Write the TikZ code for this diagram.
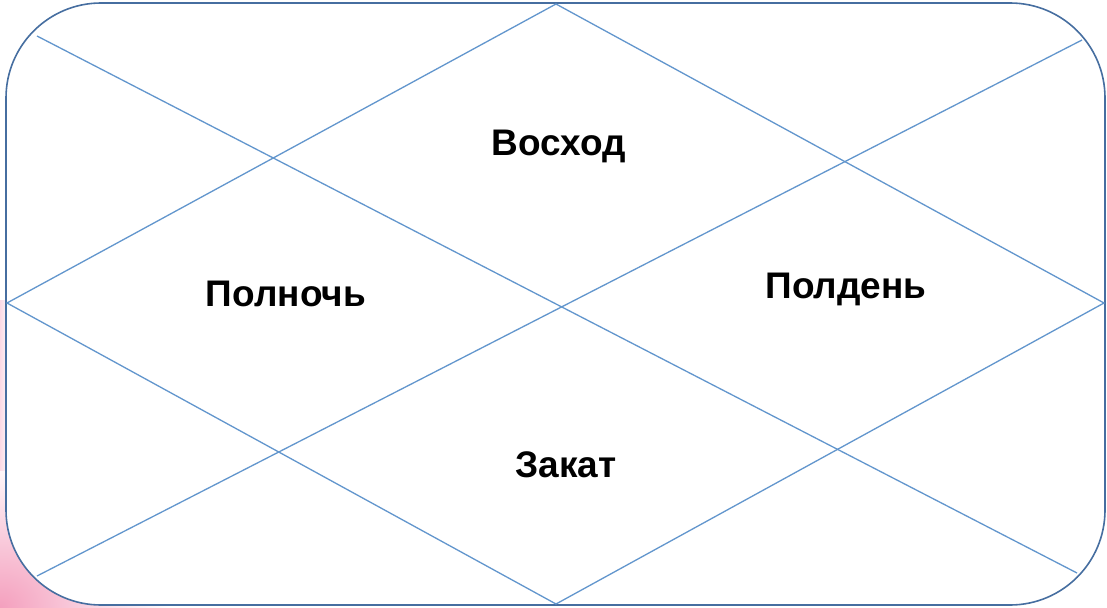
\documentclass[tikz,border=0pt]{standalone}
\usepackage{fontspec}
\setmainfont{Liberation Sans}
\definecolor{lineblue}{RGB}{98,150,205}
\definecolor{frameblue}{RGB}{70,110,160}
\definecolor{pinkbg}{RGB}{244,160,190}
\tikzset{
  grid line/.style={draw=lineblue, line width=1.3pt},
  label text/.style={font=\fontsize{37}{42}\selectfont\bfseries, text=black, inner sep=0pt}
}
\begin{document}
\begin{tikzpicture}[x=1pt,y=-1pt]
\useasboundingbox (0,0) rectangle (1107,607);
% pink background swoosh at bottom left
\begin{scope}
\clip (0,0) rectangle (1107,607);
\shade[inner color=pinkbg, outer color=white] (0,607) ellipse [x radius=170pt, y radius=150pt];
\shade[left color=pinkbg!40, right color=white] (0,300) rectangle (10,470);
\end{scope}
% frame
\draw[fill=white, draw=frameblue, line width=1.6pt, rounded corners=95pt] (6,3) rectangle (1105,605);
% key points
\coordinate (T) at (556,4);
\coordinate (B) at (556,604);
\coordinate (L) at (7,303);
\coordinate (R) at (1104,303);
\coordinate (TL) at (37,36);
\coordinate (BR) at (1077,573);
\coordinate (TR) at (1082,40);
\coordinate (BL) at (37,576);
% diamond
\draw[grid line] (T) -- (L) -- (B) -- (R) -- cycle;
% diagonals
\draw[grid line] (TL) -- (BR);
\draw[grid line] (TR) -- (BL);
% labels
\node[label text] (sunrise) at (559,146) {Восход};
\node[label text] (midnight) at (286,294) {Полночь};
\node[label text] (noon) at (846,289) {Полдень};
\node[label text] (sunset) at (566,465) {Закат};
\end{tikzpicture}
\end{document}
